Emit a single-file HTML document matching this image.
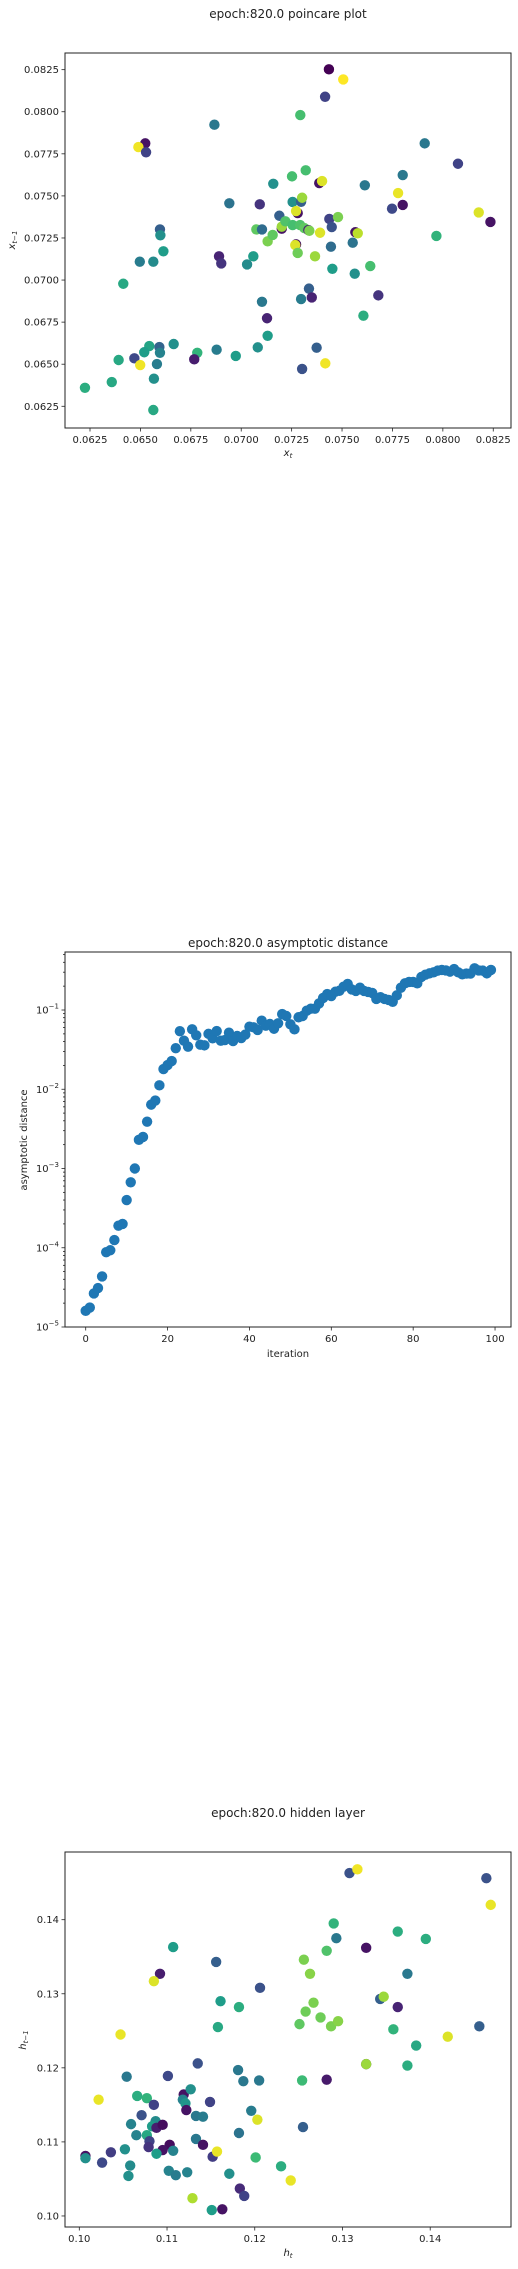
<!DOCTYPE html>
<html><head><meta charset="utf-8">
<style>
html,body{margin:0;padding:0;background:#fff;}
svg{display:block;font-family:"DejaVu Sans","Liberation Sans",sans-serif;}
text{fill:#222;}
</style></head>
<body>
<svg id="fig" width="518" height="2269" viewBox="0 0 518 2269" xmlns="http://www.w3.org/2000/svg"></svg>
<script>
// ---------- Poincare plot data ----------
const poincareX = [.07435,.07506,.07416,.07293,.06867,.06524,.06490,.06528,.07910,.08075,.07320,.07252,.07801,.07159,.07387,.07401,.07613,.07778,.06941,.07092,.07255,.07297,.07302,.07801,.07748,.08178,.08236,.07189,.07280,.07272,.07437,.07449,.07480,.06597,.06599,.06614,.06497,.06564,.06415,.06890,.06901,.07029,.07060,.07075,.07103,.07131,.07156,.07201,.07201,.07219,.07255,.07292,.07313,.07333,.07338,.07391,.07272,.07268,.07280,.07366,.07445,.07553,.07566,.07578,.07968,.07452,.07563,.07640,.07336,.07297,.07350,.07680,.07103,.07128,.07606,.07131,.07082,.07374,.07302,.07417,.06973,.06878,.06782,.06767,.06665,.06594,.06597,.06544,.06519,.06470,.06499,.06582,.06567,.06392,.06358,.06225,.06564];
const poincareY = [.08252,.08192,.08089,.07980,.07923,.07812,.07790,.07759,.07812,.07691,.07652,.07616,.07624,.07572,.07576,.07588,.07563,.07517,.07456,.07450,.07464,.07465,.07489,.07446,.07424,.07402,.07345,.07382,.07398,.07410,.07363,.07315,.07374,.07301,.07266,.07171,.07109,.07109,.06978,.07141,.07099,.07093,.07141,.07301,.07301,.07230,.07268,.07305,.07317,.07349,.07327,.07327,.07309,.07297,.07293,.07281,.07212,.07208,.07161,.07141,.07198,.07222,.07284,.07278,.07262,.07067,.07038,.07083,.06949,.06887,.06897,.06909,.06871,.06773,.06788,.06669,.06600,.06598,.06472,.06505,.06549,.06586,.06568,.06529,.06620,.06602,.06568,.06608,.06571,.06535,.06495,.06501,.06414,.06525,.06394,.06360,.06228];
const poincareC = [0,1,.2,.7,.4,.05,.98,.2,.4,.2,.7,.7,.4,.5,.05,.95,.4,.97,.38,.15,.5,.3,.85,.05,.22,.95,.05,.3,.05,.95,.2,.25,.8,.3,.5,.55,.42,.48,.6,.1,.15,.48,.55,.75,.35,.8,.75,.05,.85,.72,.7,.72,.75,.1,.8,.95,.05,.95,.78,.85,.35,.38,.05,.9,.65,.55,.5,.7,.3,.42,.1,.15,.4,.1,.62,.55,.5,.3,.25,.98,.55,.42,.65,.08,.5,.32,.45,.58,.55,.22,.98,.42,.5,.6,.6,.62,.6];
const poincareXTicks = [0.0625,0.0650,0.0675,0.0700,0.0725,0.0750,0.0775,0.0800,0.0825];
const poincareYTicks = [0.0625,0.0650,0.0675,0.0700,0.0725,0.0750,0.0775,0.0800,0.0825];

// ---------- Asymptotic distance data ----------
const asymDist = [1.6e-5,1.76e-5,2.65e-5,3.1e-5,4.35e-5,8.8e-5,9.3e-5,1.25e-4,1.9e-4,2.0e-4,4.0e-4,6.7e-4,1.0e-3,2.3e-3,2.5e-3,3.9e-3,6.4e-3,7.2e-3,.0112,.018,.0202,.0227,.033,.054,.041,.0345,.057,.048,.0365,.0358,.050,.044,.0543,.041,.0418,.0517,.0406,.047,.0443,.049,.0616,.0604,.056,.0733,.0634,.0666,.058,.068,.089,.084,.066,.057,.081,.084,.098,.104,.104,.121,.142,.159,.150,.170,.175,.197,.213,.182,.174,.191,.174,.169,.164,.138,.145,.138,.134,.127,.153,.191,.217,.226,.226,.217,.261,.279,.29,.299,.314,.320,.316,.305,.329,.299,.282,.288,.288,.336,.316,.314,.29,.320];
const asymXTicks = [0,20,40,60,80,100];
const asymYExps = [-5,-4,-3,-2,-1];

// ---------- Hidden layer data ----------
const hiddenX = [.1308,.1317,.1464,.1469,.1290,.1293,.1363,.1395,.1327,.1107,.1282,.1256,.1156,.1092,.1085,.1263,.1374,.1206,.1343,.1347,.1363,.1161,.1182,.1267,.1258,.1275,.1251,.1287,.1295,.1158,.1456,.1358,.1047,.1420,.1384,.1374,.1327,.1327,.1135,.1054,.1101,.1181,.1187,.1205,.1254,.1282,.1022,.1066,.1077,.1085,.1119,.1118,.1121,.1122,.1127,.1149,.1133,.1141,.1196,.1203,.1071,.1059,.1087,.1083,.1088,.1095,.1255,.1182,.1065,.1077,.1080,.1079,.1133,.1103,.1141,.1095,.1107,.1052,.1036,.1088,.1007,.1007,.1026,.1058,.1056,.1152,.1157,.1201,.1230,.1241,.1102,.1110,.1123,.1171,.1183,.1188,.1129,.1151,.1163];
const hiddenY = [.1463,.1468,.1456,.1420,.1395,.1375,.1384,.1374,.1362,.1363,.1358,.1346,.1343,.1327,.1317,.1327,.1327,.1308,.1293,.1296,.1282,.1290,.1282,.1288,.1276,.1268,.1259,.1256,.1263,.1255,.1256,.1252,.1245,.1242,.1230,.1203,.1205,.1205,.1206,.1188,.1189,.1197,.1182,.1183,.1183,.1184,.1157,.1162,.1159,.1150,.1164,.1157,.1152,.1143,.1171,.1154,.1135,.1134,.1142,.1130,.1136,.1124,.1128,.1121,.1119,.1123,.1120,.1112,.1109,.1109,.1101,.1093,.1104,.1096,.1096,.1089,.1088,.1090,.1086,.1084,.1081,.1078,.1072,.1068,.1054,.1080,.1087,.1079,.1067,.1048,.1061,.1055,.1059,.1057,.1037,.1027,.1024,.1008,.1009];
const hiddenC = [.25,.98,.25,.97,.65,.4,.62,.62,.05,.55,.72,.8,.3,.08,.95,.82,.4,.25,.3,.85,.1,.55,.62,.8,.78,.78,.75,.8,.82,.6,.3,.65,.97,.95,.6,.62,.1,.85,.25,.4,.22,.4,.4,.4,.68,.07,.97,.62,.65,.2,.05,.45,.52,.05,.5,.2,.4,.42,.42,.95,.25,.45,.48,.55,.08,.03,.3,.38,.45,.6,.2,.15,.4,.03,.05,.05,.45,.5,.18,.55,.05,.5,.22,.48,.5,.18,.97,.68,.62,.97,.45,.42,.45,.5,.12,.2,.88,.55,.05];
const hiddenXTicks = [0.10,0.11,0.12,0.13,0.14];
const hiddenYTicks = [0.10,0.11,0.12,0.13,0.14];

const NS = "http://www.w3.org/2000/svg";
const svg = document.getElementById('fig');
function mk(tag, attrs, parent){
  const e = document.createElementNS(NS, tag);
  for (const k in attrs) e.setAttribute(k, attrs[k]);
  (parent||svg).appendChild(e);
  return e;
}
const VIR = [[68,1,84],[72,40,120],[62,74,137],[49,104,142],[38,130,142],[31,158,137],[53,183,121],[109,205,89],[180,222,44],[253,231,37]];
function viridis(t){
  t=Math.max(0,Math.min(1,t)); const s=t*(VIR.length-1); const i=Math.min(Math.floor(s),VIR.length-2); const f=s-i;
  const c=VIR[i].map((v,k)=>Math.round(v+(VIR[i+1][k]-v)*f));
  return `rgb(${c[0]},${c[1]},${c[2]})`;
}
function linScale(d0,d1,r0,r1){return v=>r0+(v-d0)/(d1-d0)*(r1-r0);}

function frame(g,L,T,R,B){
  const f = mk('rect',{x:L,y:T,width:R-L,height:B-T,fill:'none',stroke:'#222','stroke-width':1},g);
  
  
}
function xTick(g,x,B,label){
  const t=mk('line',{x1:x,y1:B,x2:x,y2:B+3.5,stroke:'#222','stroke-width':0.8},g);
  
  
  const l=mk('text',{x:x,y:B+15,'font-size':10,'text-anchor':'middle'},g);
  l.textContent=label;
  
  
}
function yTick(g,y,L,label,len){
  const t=mk('line',{x1:L-(len||3.5),y1:y,x2:L,y2:y,stroke:'#222','stroke-width':0.8},g);
  
  
  if(label!==null){
    const l=mk('text',{x:L-6,y:y+3.5,'font-size':10,'text-anchor':'end'},g);
    l.innerHTML=label;
    
    
  }
}
function title(g,x,y,txt){
  const t=mk('text',{x:x,y:y,'font-size':12,'text-anchor':'middle'},g);
  t.textContent=txt;
  
  
}

// ===== Chart 1: Poincare =====
(function(){
  const g=mk('g',{});
  
  
  const L=65,R=511,T=53,B=428;
  const sx=linScale(0.06126,0.08338,L,R), sy=linScale(0.06121,0.08349,B,T);
  title(g,288,18,'epoch:820.0 poincare plot');
  poincareX.forEach((v,i)=>{
    const c=mk('circle',{cx:sx(v),cy:sy(poincareY[i]),r:5.2,fill:viridis(poincareC[i])},g);
    
    
  });
  frame(g,L,T,R,B);
  poincareXTicks.forEach(v=>xTick(g,sx(v),B,v.toFixed(4)));
  poincareYTicks.forEach(v=>yTick(g,sy(v),L,v.toFixed(4)));
  const xl=mk('text',{x:288,y:456,'font-size':10,'text-anchor':'middle','font-style':'italic'},g);
  xl.innerHTML='x<tspan font-size="7" dy="2">t</tspan>';
  
  
  const yl=mk('text',{x:0,y:0,'font-size':10,'text-anchor':'middle','font-style':'italic',transform:'translate(15,240) rotate(-90)'},g);
  yl.innerHTML='x<tspan font-size="7" dy="2">t−1</tspan>';
  
  
})();

// ===== Chart 2: Asymptotic distance =====
(function(){
  const g=mk('g',{});
  
  
  const L=65,R=511,T=952,B=1327;
  const sx=linScale(-5.06,103.9,L,R);
  const sy=v=>linScale(-5,-0.268,B,T)(Math.log10(v));
  title(g,288,947,'epoch:820.0 asymptotic distance');
  asymDist.forEach((v,i)=>{
    const c=mk('circle',{cx:sx(i),cy:sy(v),r:5.2,fill:'#1f77b4'},g);
    
    
  });
  frame(g,L,T,R,B);
  asymXTicks.forEach(v=>xTick(g,sx(v),B,String(v)));
  asymYExps.forEach(e=>{
    yTick(g,sy(Math.pow(10,e)),L,'10<tspan font-size="7" dy="-5">−'+(-e)+'</tspan>');
    for(let m=2;m<=9;m++){
      const v=m*Math.pow(10,e);
      if(Math.log10(v)<=-0.268) yTick(g,sy(v),L,null,2);
    }
  });
  const xl=mk('text',{x:288,y:1357,'font-size':10,'text-anchor':'middle'},g);
  xl.textContent='iteration';
  
  
  const yl=mk('text',{x:0,y:0,'font-size':10,'text-anchor':'middle',transform:'translate(27,1140) rotate(-90)'},g);
  yl.textContent='asymptotic distance';
  
  
})();

// ===== Chart 3: Hidden layer =====
(function(){
  const g=mk('g',{});
  
  
  const L=65,R=511,T=1852,B=2227;
  const sx=linScale(0.09837,0.14921,L,R), sy=linScale(0.09851,0.14914,B,T);
  title(g,288,1817,'epoch:820.0 hidden layer');
  hiddenX.forEach((v,i)=>{
    const c=mk('circle',{cx:sx(v),cy:sy(hiddenY[i]),r:5.2,fill:viridis(hiddenC[i])},g);
    
    
  });
  frame(g,L,T,R,B);
  hiddenXTicks.forEach(v=>xTick(g,sx(v),B,v.toFixed(2)));
  hiddenYTicks.forEach(v=>yTick(g,sy(v),L,v.toFixed(2)));
  const xl=mk('text',{x:288,y:2256,'font-size':10,'text-anchor':'middle','font-style':'italic'},g);
  xl.innerHTML='h<tspan font-size="7" dy="2">t</tspan>';
  
  
  const yl=mk('text',{x:0,y:0,'font-size':10,'text-anchor':'middle','font-style':'italic',transform:'translate(26,2040) rotate(-90)'},g);
  yl.innerHTML='h<tspan font-size="7" dy="2">t−1</tspan>';
  
  
})();
</script>
</body></html>
